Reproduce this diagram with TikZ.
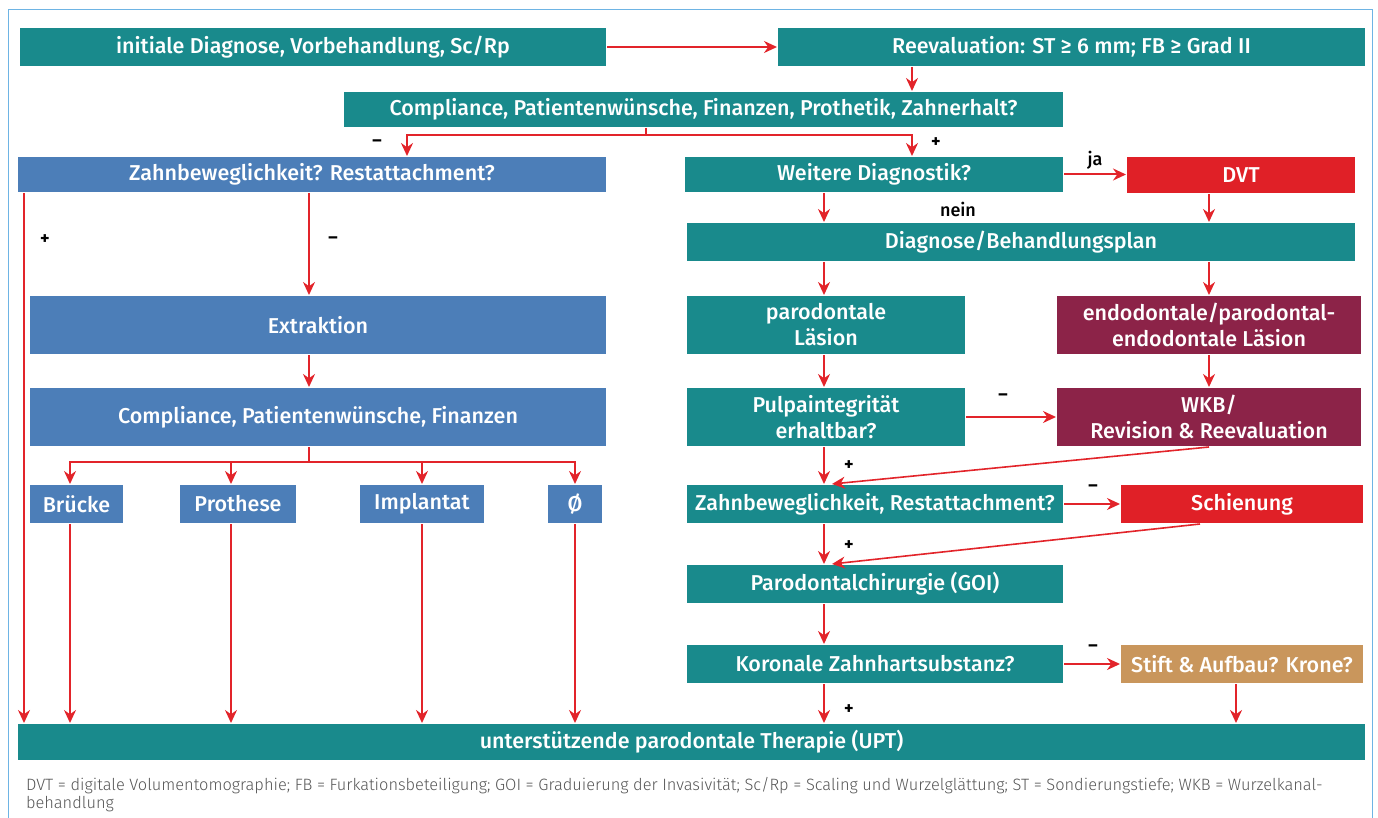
\documentclass[tikz,border=0pt]{standalone}
\usepackage{fontspec}
\setmainfont{Fira Sans}[UprightFont=* Medium,BoldFont=* Bold]
\newfontfamily\notefont{Fira Sans}[UprightFont=* Light]
\usepackage{tikz}
\usetikzlibrary{arrows.meta,positioning,calc}
\definecolor{tealbox}{RGB}{25,138,140}
\definecolor{bluebox}{RGB}{76,126,184}
\definecolor{redbox}{RGB}{224,32,39}
\definecolor{winebox}{RGB}{140,35,72}
\definecolor{tanbox}{RGB}{201,150,92}
\definecolor{arrowred}{RGB}{226,36,42}
\definecolor{framebl}{RGB}{110,180,228}
\definecolor{notegrey}{RGB}{85,85,85}

\begin{document}
\begin{tikzpicture}[x=1pt, y=-1pt, ->, >={Stealth[length=13pt,width=12pt]}, line width=2pt, draw=arrowred, font=\fontsize{21.5}{26}\selectfont]
			\tikzstyle{box}=[rectangle, inner sep=0pt, text=white, align=center, fill=tealbox]
			\tikzstyle{sign}=[text=black, inner sep=0pt, font=\bfseries\fontsize{18}{20}\selectfont]

			\useasboundingbox (0,0) rectangle (1378,818);
			\draw[-, framebl, line width=1pt] (8,818) -- (8,10) -- (1372,10) -- (1372,818);

			% columns of the connectors
			\coordinate (xl) at (24,0); \coordinate (xe) at (309,0);
			\coordinate (xb) at (407,0); \coordinate (xa) at (912,0);
			\coordinate (xc) at (824,0); \coordinate (xd) at (1209,0);
			\coordinate (xbr) at (70,0); \coordinate (xpr) at (231,0);
			\coordinate (xs) at (646,135); \coordinate (xt) at (309,462);

			\begin{scope}
				\node[box, minimum width=586, minimum height=38] (init) at (313,47) {initiale Diagnose, Vorbehandlung, Sc/Rp};
				\node[box, minimum width=587, minimum height=38] (reev) at (1071.5,47) {Reevaluation: ST ≥ 6 mm; FB ≥ Grad II};
				\node[box, minimum width=719, minimum height=35] (comp) at (703.5,109.5) {Compliance, Patientenwünsche, Finanzen, Prothetik, Zahnerhalt?};
				\node[box, fill=bluebox, minimum width=588, minimum height=35] (zb) at (312,174.5) {Zahnbeweglichkeit? Restattachment?};
				\node[box, minimum width=378, minimum height=35] (weit) at (874,174.5) {Weitere Diagnostik?};
				\node[box, fill=redbox, minimum width=228, minimum height=36] (dvt) at (1241,175) {DVT};
				\node[box, minimum width=668, minimum height=38] (diag) at (1021,242) {Diagnose/Behandlungsplan};
				\node[box, minimum width=278, minimum height=58] (paro) at (826,325) {parodontale\\Läsion};
				\node[box, fill=winebox, minimum width=304, minimum height=58] (endo) at (1209,325) {endodontale/parodontal-\\endodontale Läsion};
				\node[box, minimum width=278, minimum height=58] (pulpa) at (826,417) {Pulpaintegrität\\erhaltbar?};
				\node[box, fill=winebox, minimum width=304, minimum height=58] (wkb) at (1209,417) {WKB/\\Revision \& Reevaluation};
				\node[box, minimum width=376, minimum height=38] (zb2) at (875,504) {Zahnbeweglichkeit, Restattachment?};
				\node[box, fill=redbox, minimum width=242, minimum height=38] (schien) at (1242,504) {Schienung};
				\node[box, minimum width=376, minimum height=38] (pchir) at (875,584) {Parodontalchirurgie (GOI)};
				\node[box, minimum width=376, minimum height=38] (koron) at (875,664) {Koronale Zahnhartsubstanz?};
				\node[box, fill=tanbox, minimum width=242, minimum height=38] (stift) at (1242,664) {Stift \& Aufbau? Krone?};
				\node[box, minimum width=1347, minimum height=36] (upt) at (691.5,742) {unterstützende parodontale Therapie (UPT)};

				\node[box, fill=bluebox, minimum width=576, minimum height=58] (extr) at (318,325) {Extraktion};
				\node[box, fill=bluebox, minimum width=576, minimum height=58] (comp2) at (318,417) {Compliance, Patientenwünsche, Finanzen};
				\node[box, fill=bluebox, minimum width=93, minimum height=38] (bruecke) at (76.5,504) {Brücke};
				\node[box, fill=bluebox, minimum width=116, minimum height=38] (prothese) at (238,504) {Prothese};
				\node[box, fill=bluebox, minimum width=124, minimum height=38] (impl) at (422,504) {Implantat};
				\node[box, fill=bluebox, minimum width=54, minimum height=38] (null) at (575,504) {Ø};

				\draw (init) -- (reev);
				\draw (reev.south -| xa) -- (comp.north -| xa);
				\draw[-] (comp.south -| xs) -- (xs);
				\draw (xs) -| (zb.north -| xb);
				\draw (xs) -| (weit.north -| xa);
				\node[sign] (m1) at (377,143) {–}; \node[sign] (p1) at (936,143) {+};

				\draw (weit.east) -- node[above=1pt, text=black, font=\fontsize{18}{20}\selectfont] (ja) {ja} (dvt.west |- weit.east);
				\draw (weit.south -| xc) -- (diag.north -| xc);
				\node[text=black, font=\fontsize{18}{20}\selectfont] (nein) at (958,209) {nein};
				\draw (dvt.south -| xd) -- (diag.north -| xd);
				\draw (diag.south -| xc) -- (paro.north -| xc);
				\draw (diag.south -| xd) -- (endo.north -| xd);
				\draw (paro.south -| xc) -- (pulpa.north -| xc);
				\draw (endo.south -| xd) -- (wkb.north -| xd);
				\draw (pulpa) -- (wkb); \node[sign] (m2) at (1003,397) {–};
				\draw (pulpa.south -| xc) -- (zb2.north -| xc); \node[sign] (p2) at (849,466) {+};
				\draw[line width=1.6pt] (wkb.south -| xd) -- ([xshift=8]zb2.north -| xc);
				\draw (zb2) -- (schien); \node[sign] (m3) at (1093,488) {–};
				\draw (zb2.south -| xc) -- (pchir.north -| xc); \node[sign] (p3) at (849,546) {+};
				\draw[line width=1.6pt] ([xshift=-42]schien.south) -- ([xshift=8]pchir.north -| xc);
				\draw (pchir.south -| xc) -- (koron.north -| xc);
				\draw (koron) -- (stift); \node[sign] (m4) at (1093,648) {–};
				\draw (koron.south -| xc) -- (upt.north -| xc); \node[sign] (p4) at (849,710) {+};
				\draw ([xshift=-6]stift.south) -- ([xshift=-6]stift.south |- upt.north);

				\draw (zb.south -| xl) -- (upt.north -| xl); \node[sign] (p5) at (45,240) {+};
				\draw (zb.south -| xe) -- (extr.north -| xe); \node[sign] (m5) at (333,240) {–};
				\draw (extr.south -| xe) -- (comp2.north -| xe);
				\draw[-] (comp2.south -| xt) -- (xt);
				\draw (xt) -| (bruecke.north -| xbr);
				\draw (xt) -| (prothese.north -| xpr);
				\draw (xt) -| (impl.north);
				\draw (xt) -| (null.north);
				\draw (bruecke.south -| xbr) -- (upt.north -| xbr);
				\draw (prothese.south -| xpr) -- (upt.north -| xpr);
				\draw (impl.south) -- (upt.north -| impl.south);
				\draw (null.south) -- (upt.north -| null.south);
			\end{scope}

			\node[anchor=north west, inner sep=0pt, align=left, text=notegrey, font=\notefont\fontsize{16.4}{18}\selectfont] (note) at (25,776) {DVT = digitale Volumentomographie; FB = Furkationsbeteiligung; GOI = Graduierung der Invasivität; Sc/Rp = Scaling und Wurzelglättung; ST = Sondierungstiefe; WKB = Wurzelkanal-\\behandlung};
		\end{tikzpicture}
\end{document}
